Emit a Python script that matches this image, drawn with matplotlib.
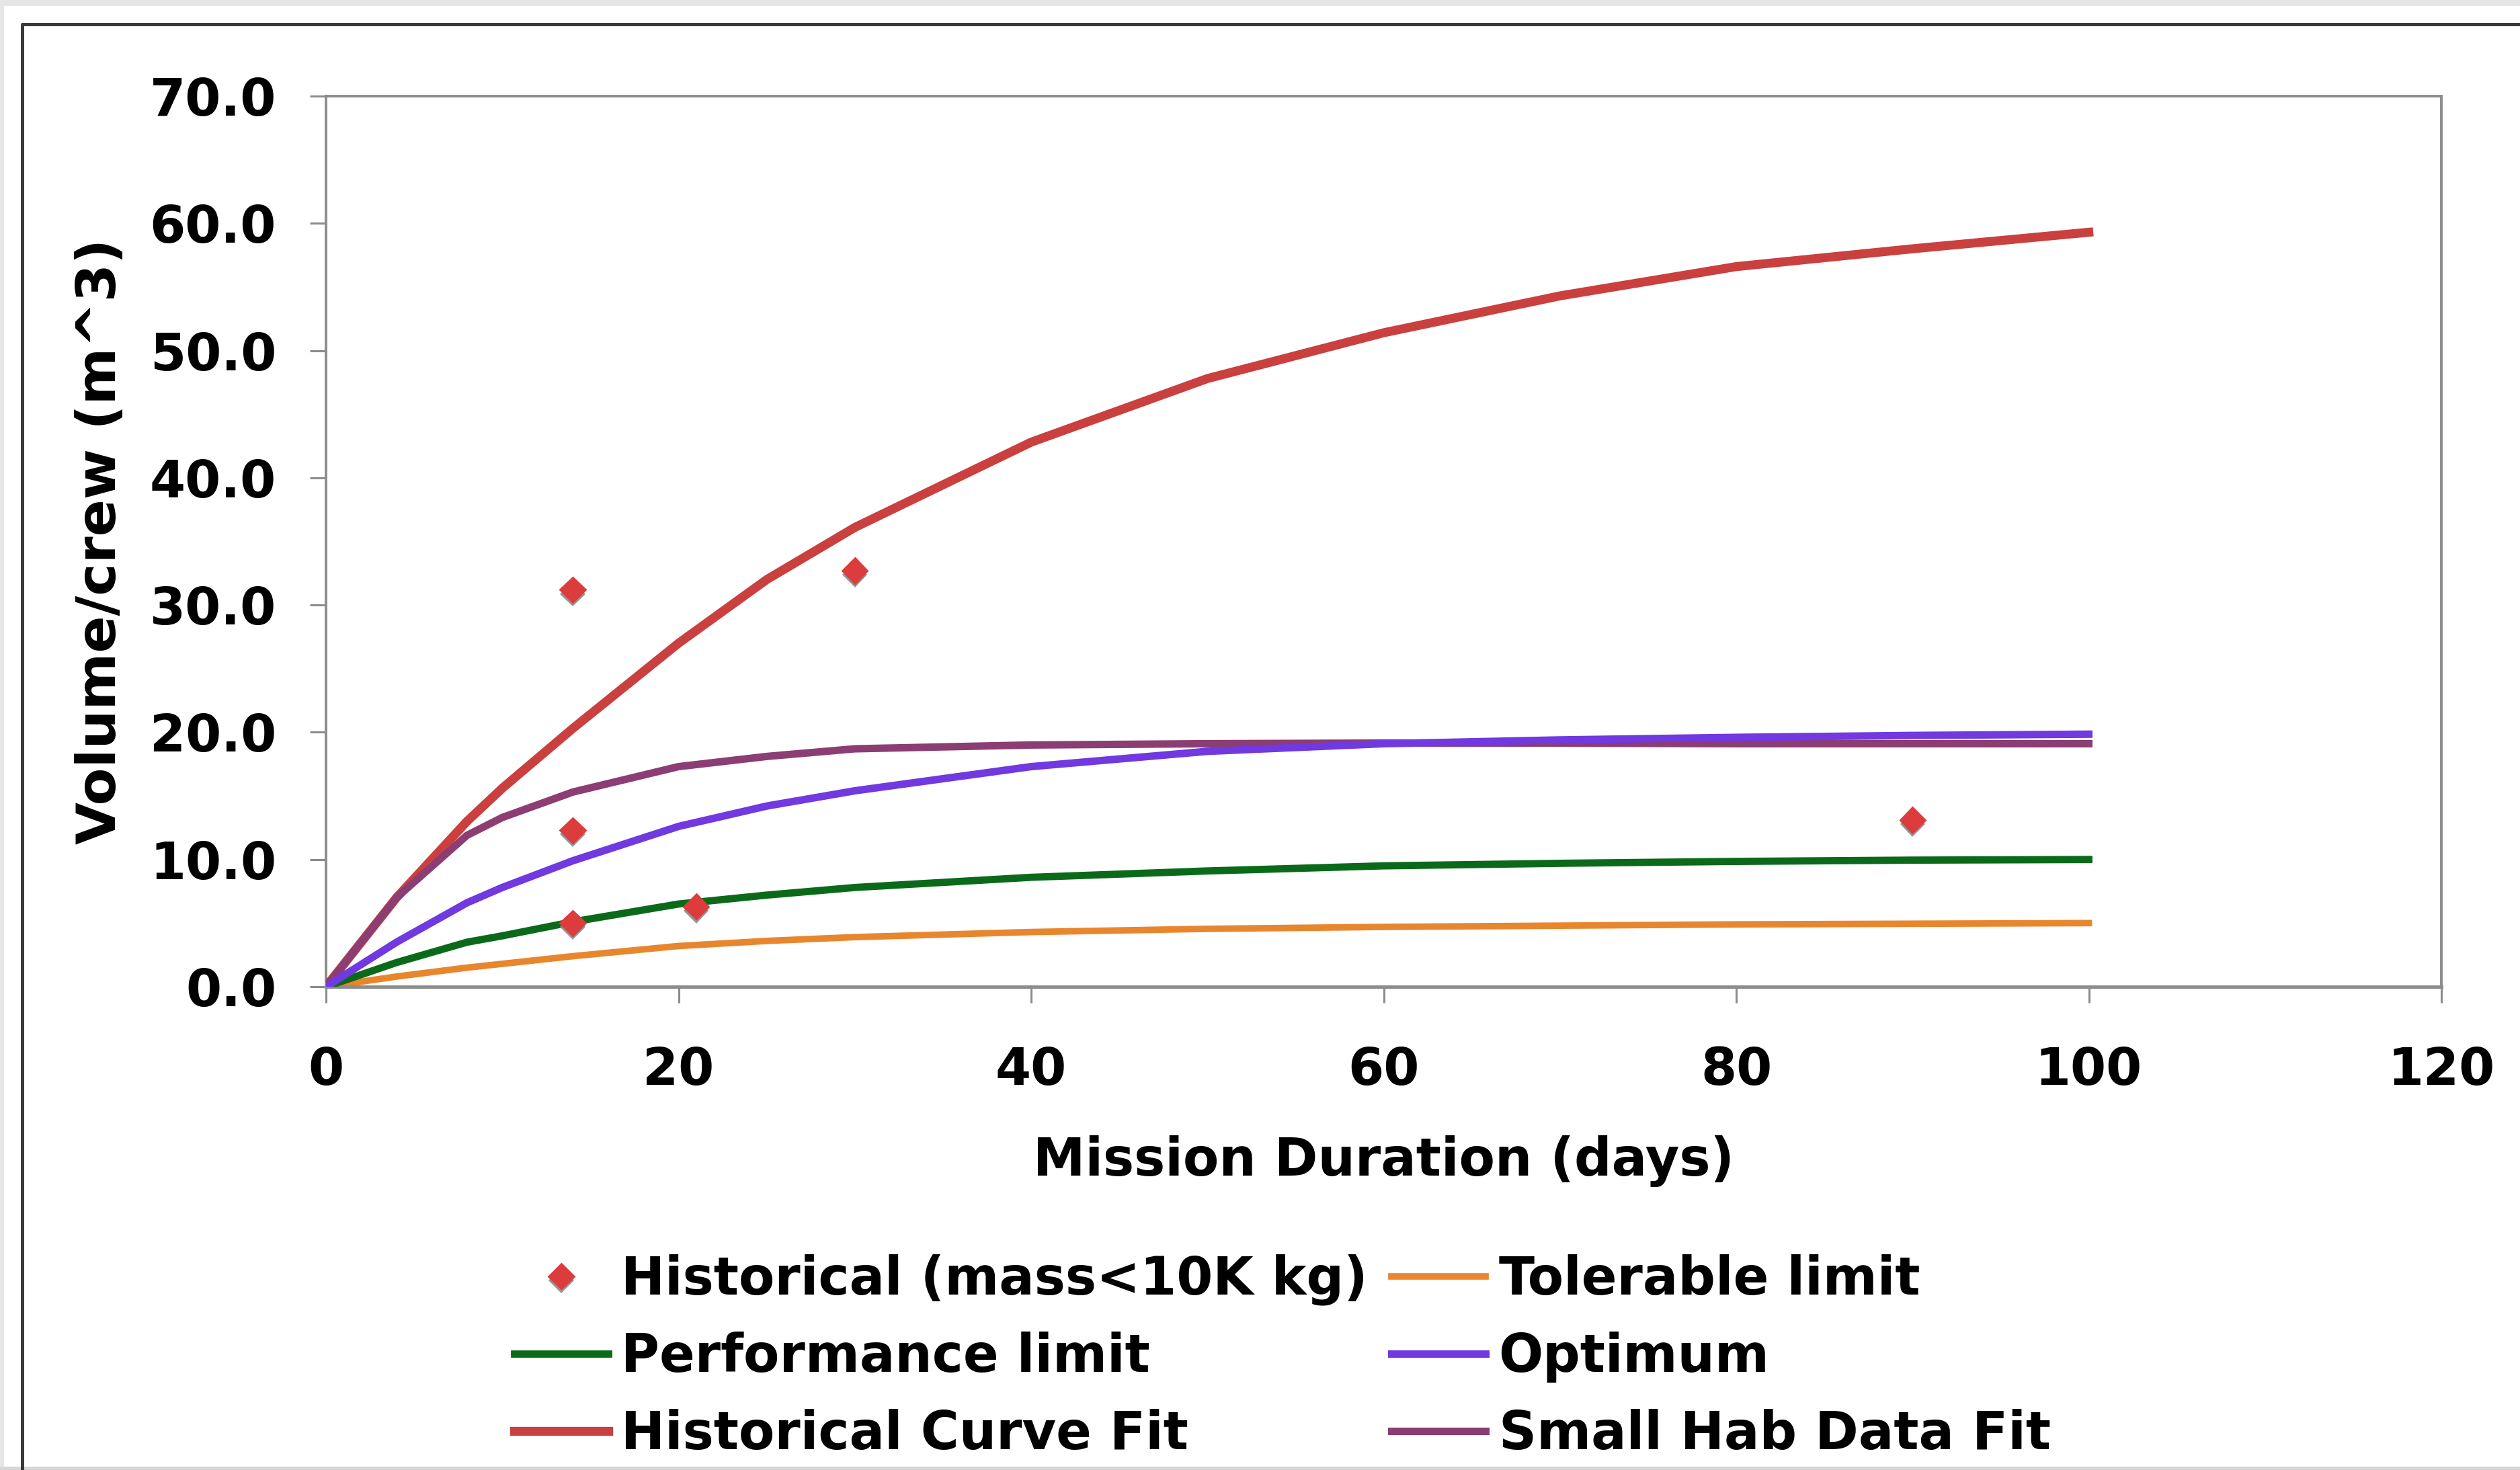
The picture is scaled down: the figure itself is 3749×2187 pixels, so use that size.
import matplotlib
matplotlib.use('Agg')
import matplotlib.pyplot as plt
import matplotlib.patheffects as pe
from matplotlib.patches import Rectangle
from matplotlib.lines import Line2D

# Mission duration (days) at which each curve is sampled
days = [0, 4, 8, 10, 14, 20, 25, 30, 40, 50, 60, 70, 80, 90, 100]

# Volume per crew member (m^3)
tolerable = [0, 0.8, 1.5, 1.8, 2.4, 3.2, 3.6, 3.9, 4.3, 4.55, 4.7, 4.8, 4.9, 4.95, 5.0]
performance = [0, 1.9, 3.5, 4.0, 5.1, 6.5, 7.2, 7.8, 8.6, 9.1, 9.5, 9.7, 9.85, 9.95, 10.0]
optimum = [0, 3.5, 6.6, 7.8, 9.9, 12.6, 14.2, 15.4, 17.3, 18.5, 19.1, 19.4, 19.6, 19.75, 19.85]
hist_fit = [0, 7.0, 13.0, 15.6, 20.3, 27.0, 32.0, 36.1, 42.8, 47.8, 51.4, 54.3, 56.6, 58.0, 59.3]
small_hab = [0, 7.0, 11.9, 13.3, 15.3, 17.3, 18.1, 18.7, 19.0, 19.1, 19.15, 19.15, 19.1, 19.1, 19.1]

# Historical spacecraft, mass < 10K kg
hist_days = [14, 14, 14, 21, 30, 90]
hist_vol = [31.2, 12.3, 5.0, 6.3, 32.7, 13.1]

W, H = 3749, 2187
DPI = 200
FS = 28

plt.rcParams['font.family'] = 'DejaVu Sans'
plt.rcParams['font.weight'] = 'bold'

fig = plt.figure(figsize=(W / DPI, H / DPI), dpi=DPI, facecolor='white')

# window chrome around the chart
fig.patches.append(Rectangle((0, 1 - 9 / H), 1, 9 / H, transform=fig.transFigure,
                             facecolor='#e6e6e6', edgecolor='none', zorder=0))
fig.patches.append(Rectangle((0, 0), 6 / W, 1, transform=fig.transFigure,
                             facecolor='#e6e6e6', edgecolor='none', zorder=0))
fig.patches.append(Rectangle((0, 0), 1, 5 / H, transform=fig.transFigure,
                             facecolor='#d6d6d6', edgecolor='none', zorder=0))
fig.lines.append(Line2D([33 / W, 33 / W, 1], [0, 1 - 36 / H, 1 - 36 / H],
                        transform=fig.transFigure, color='#3a3a3a', lw=1.8))

ax = fig.add_axes([485 / W, 1 - 1468 / H, (3632 - 485) / W, (1468 - 143) / H])

ax.plot(days, tolerable, color='#e8862e', lw=3.5, label='Tolerable limit', zorder=2)
ax.plot(days, performance, color='#0b6a1a', lw=3.9, label='Performance limit', zorder=3)
ax.plot(days, hist_fit, color='#c9403e', lw=4.8, label='Historical Curve Fit', zorder=4)
ax.plot(days, small_hab, color='#8b3d74', lw=4.0, label='Small Hab Data Fit', zorder=5)
ax.plot(days, optimum, color='#7139e0', lw=4.0, label='Optimum', zorder=6)

shadow = [pe.SimplePatchShadow(offset=(0, -2.2), shadow_rgbFace='#8a8a8a', alpha=0.9),
          pe.Normal()]
ax.plot(hist_days, hist_vol, linestyle='none', marker='D', markersize=9.5,
        markerfacecolor='#dc3c3c', markeredgecolor='#dc3c3c',
        label='Historical (mass<10K kg)', zorder=8, path_effects=shadow)

ax.set_xlim(0, 120)
ax.set_ylim(0, 70)
ax.set_xticks(range(0, 121, 20))
ax.set_yticks(range(0, 71, 10))
ax.set_yticklabels([f'{v:.1f}' for v in range(0, 71, 10)])

for side in ['left', 'right', 'top', 'bottom']:
    ax.spines[side].set_color('#8c8c8c')
    ax.spines[side].set_linewidth(1.4)
ax.spines['bottom'].set_linewidth(1.8)

ax.tick_params(axis='both', direction='out', length=8.6, width=1.1, color='#8c8c8c',
               labelsize=27.5, labelcolor='black')
ax.tick_params(axis='x', pad=23)
ax.tick_params(axis='y', pad=18)
for lbl in ax.get_xticklabels() + ax.get_yticklabels():
    lbl.set_fontweight('bold')

ax.set_xlabel('Mission Duration (days)', fontsize=FS, fontweight='bold')
ax.xaxis.set_label_coords(0.5, -0.196)
ax.xaxis.label.set_va('center')
ax.set_ylabel('Volume/crew (m^3)', fontsize=29.3, fontweight='bold')
ax.yaxis.set_label_coords(-0.1065, 0.5)
ax.yaxis.label.set_va('center')

handles, labels = ax.get_legend_handles_labels()
order = [5, 1, 2, 0, 4, 3]
leg = fig.legend([handles[i] for i in order], [labels[i] for i in order],
                 loc='upper left', bbox_to_anchor=(765 / W, 1 - 1866 / H),
                 ncol=2, frameon=False, fontsize=FS, numpoints=1,
                 handlelength=1.8, handletextpad=0.25, columnspacing=0.45,
                 labelspacing=0.5, borderpad=0, borderaxespad=0)
for t in leg.get_texts():
    t.set_fontweight('bold')

fig.savefig('out.png', dpi=DPI, facecolor='white')
